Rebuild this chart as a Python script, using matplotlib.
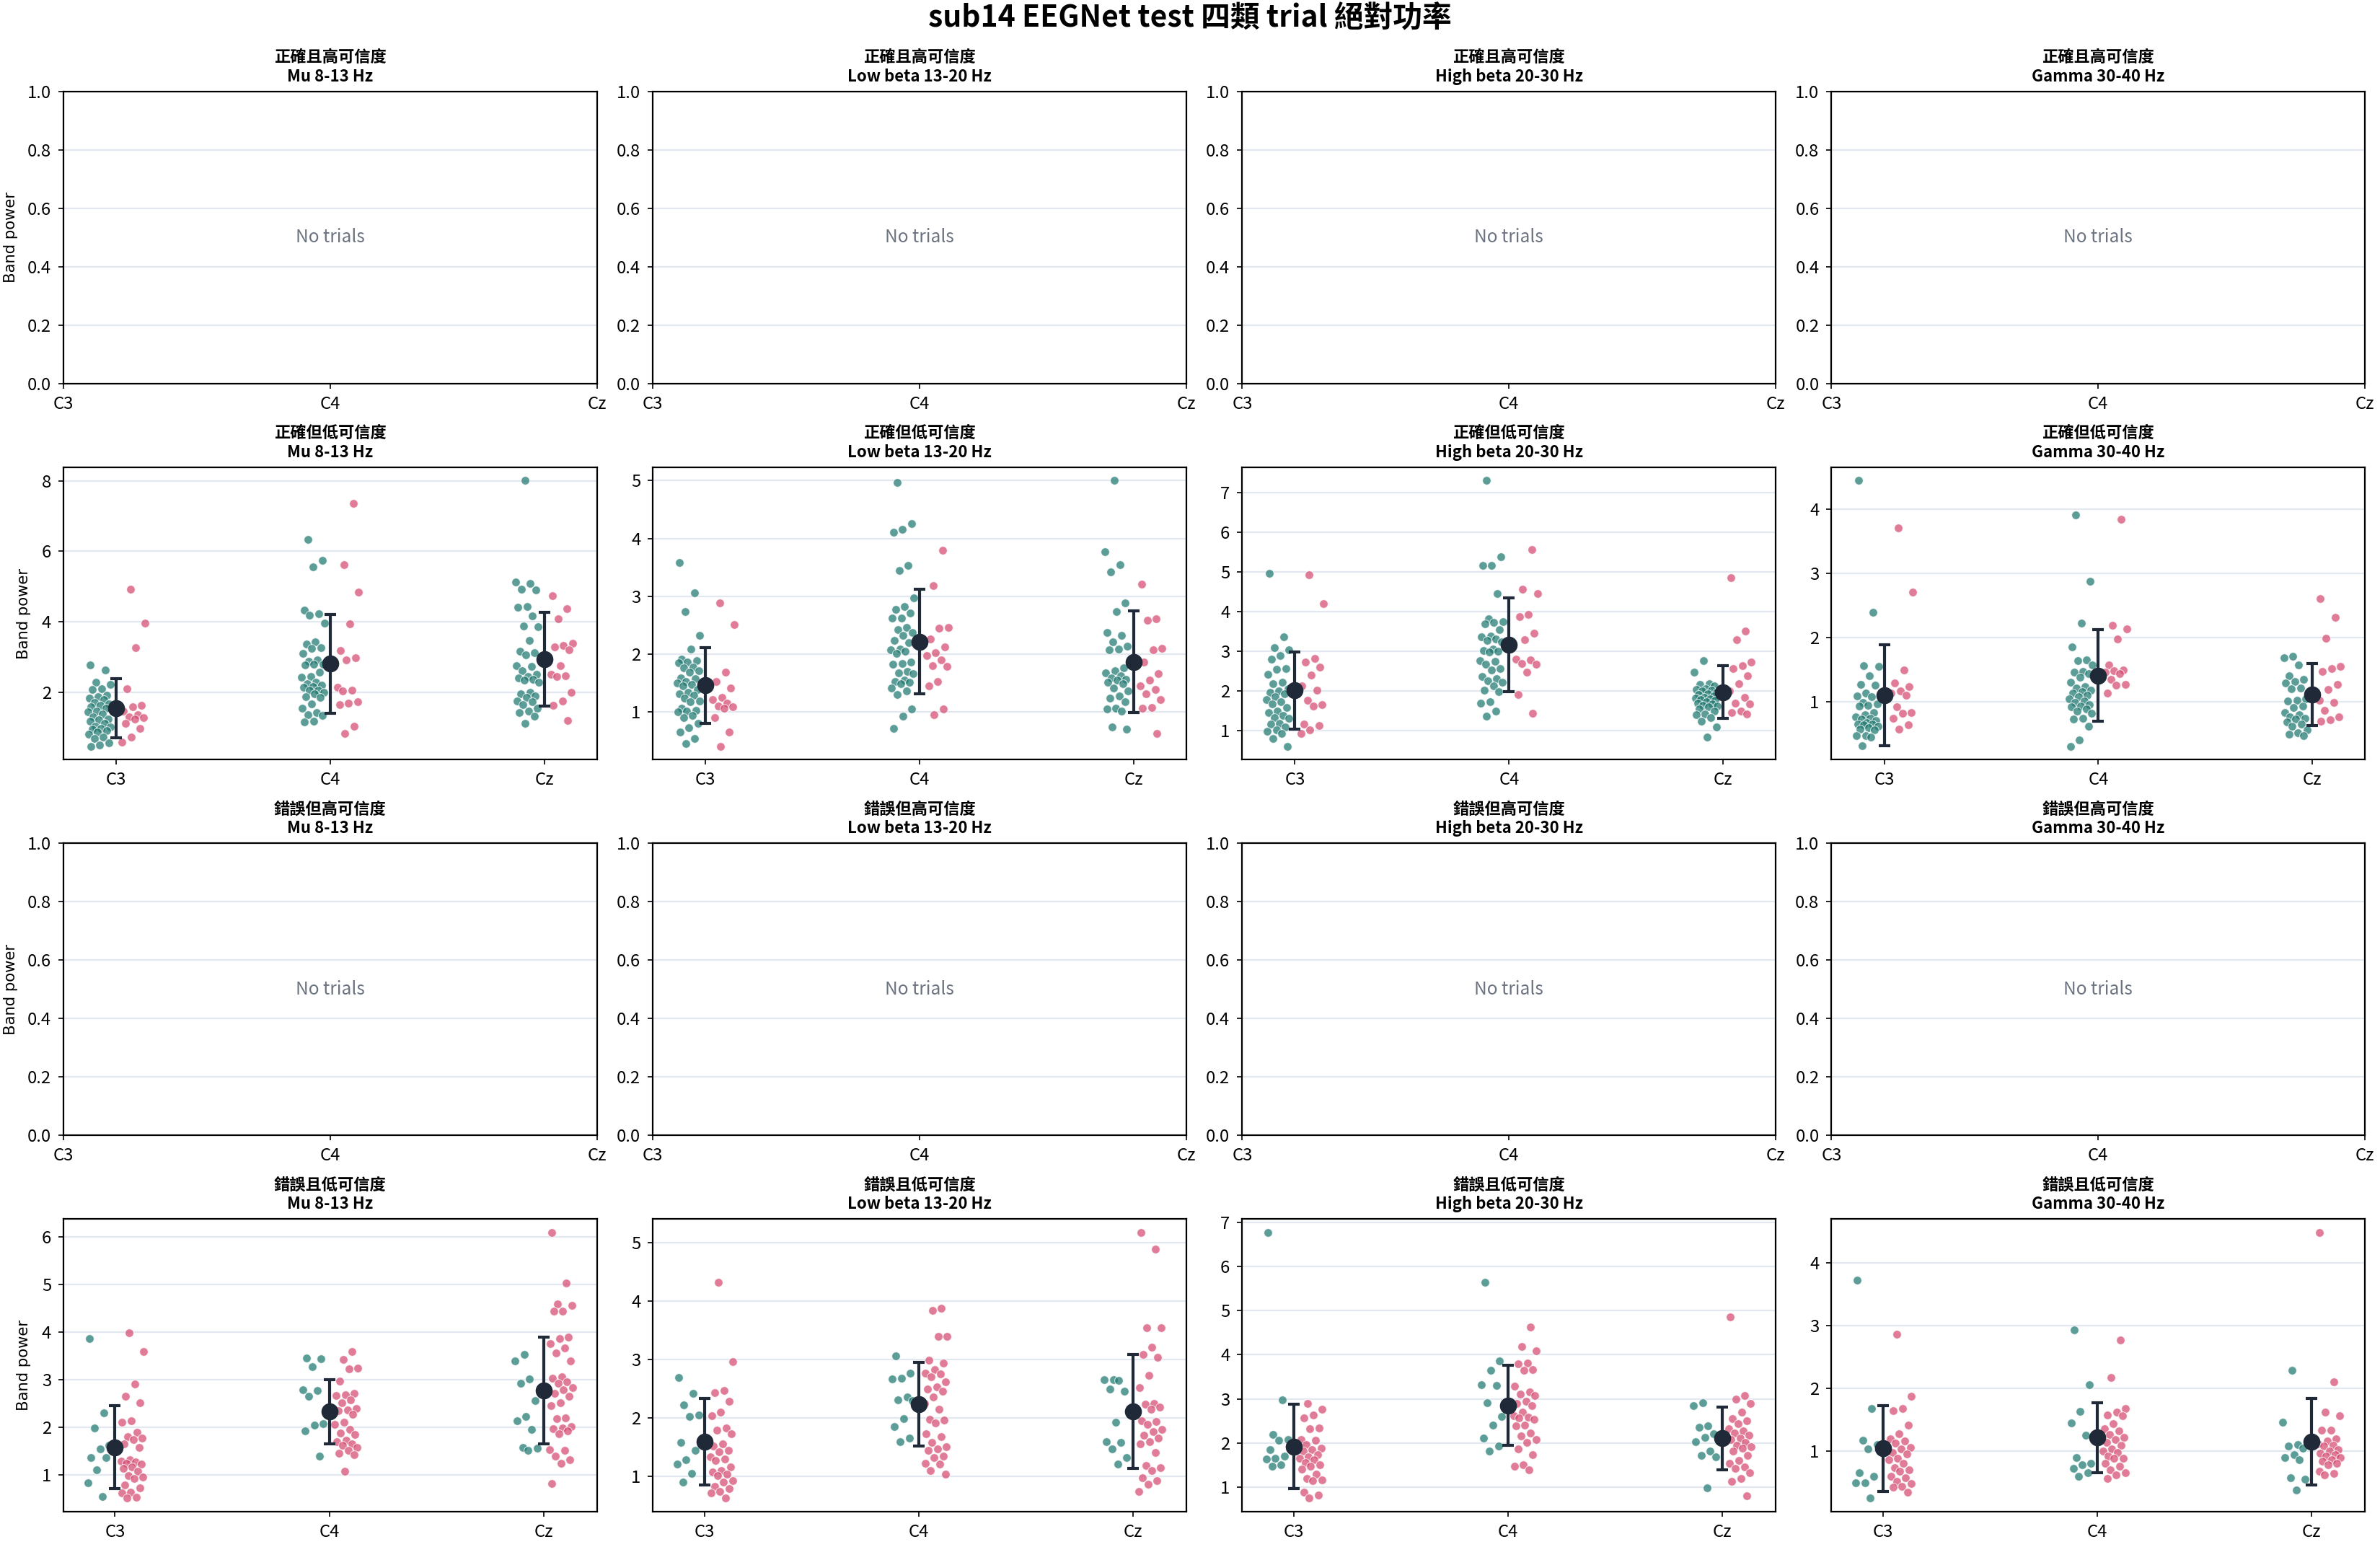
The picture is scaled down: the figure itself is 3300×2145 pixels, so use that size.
import numpy as np
import matplotlib
matplotlib.use("Agg")
import matplotlib.pyplot as plt
from matplotlib.ticker import MaxNLocator

plt.rcParams["font.family"] = ["Noto Sans CJK TC", "DejaVu Sans"]

suptitle = "sub14 EEGNet test 四類 trial 絕對功率"
categories = ["正確且高可信度", "正確但低可信度", "錯誤但高可信度", "錯誤且低可信度"]
bands = ["Mu 8-13 Hz", "Low beta 13-20 Hz", "High beta 20-30 Hz", "Gamma 30-40 Hz"]
channels = ["C3", "C4", "Cz"]

# 正確但低可信度 -- teal group / pink group, per channel [C3, C4, Cz]
cl_mu_teal = [
    [2.77, 2.63, 2.27, 2.22, 2.10, 2.08, 1.90, 1.87, 1.82, 1.78, 1.70, 1.66, 1.62, 1.58, 1.55, 1.46, 1.43, 1.38,
     1.30, 1.24, 1.21, 1.17, 1.10, 1.02, 1.00, 0.97, 0.95, 0.90, 0.87, 0.80, 0.73, 0.68, 0.56, 0.49, 0.46],
    [6.34, 5.75, 5.56, 4.33, 4.23, 4.18, 3.95, 3.43, 3.37, 3.27, 3.25, 3.09, 2.91, 2.88, 2.80, 2.78, 2.76, 2.56,
     2.45, 2.42, 2.27, 2.23, 2.20, 2.16, 2.13, 2.06, 2.05, 1.99, 1.96, 1.86, 1.84, 1.67, 1.55, 1.41, 1.36, 1.33,
     1.17, 1.16],
    [8.01, 5.13, 5.09, 4.92, 4.90, 4.42, 4.40, 4.16, 3.87, 3.86, 3.46, 3.15, 3.12, 3.05, 2.74, 2.73, 2.61, 2.50,
     2.44, 2.40, 2.37, 2.33, 2.27, 1.99, 1.96, 1.89, 1.84, 1.75, 1.72, 1.65, 1.55, 1.45, 1.41, 1.32, 1.11],
]
cl_mu_pink = [
    [4.93, 3.95, 3.26, 2.10, 1.62, 1.58, 1.45, 1.35, 1.30, 1.28, 1.24, 1.10, 0.97, 0.73, 0.57],
    [7.36, 5.61, 4.83, 3.94, 3.17, 2.97, 2.91, 2.13, 2.06, 2.03, 1.73, 1.69, 1.65, 1.02, 0.82],
    [4.74, 4.36, 4.09, 3.39, 3.32, 3.28, 3.21, 2.74, 2.50, 2.46, 2.44, 1.99, 1.74, 1.62, 1.19],
]
cl_lowbeta_teal = [
    [3.58, 3.06, 2.73, 2.33, 2.09, 1.92, 1.89, 1.87, 1.85, 1.78, 1.76, 1.72, 1.69, 1.59, 1.58, 1.53, 1.50, 1.48,
     1.45, 1.39, 1.34, 1.32, 1.29, 1.24, 1.19, 1.18, 1.07, 1.03, 1.02, 1.01, 0.94, 0.91, 0.81, 0.73, 0.66, 0.54,
     0.46],
    [4.97, 4.26, 4.16, 4.11, 3.53, 3.45, 2.97, 2.82, 2.77, 2.71, 2.63, 2.62, 2.46, 2.42, 2.38, 2.32, 2.24, 2.20,
     2.09, 2.07, 2.05, 2.01, 1.86, 1.84, 1.83, 1.70, 1.68, 1.66, 1.55, 1.53, 1.51, 1.49, 1.41, 1.36, 1.30, 1.05,
     0.93, 0.72],
    [5.00, 3.77, 3.54, 3.42, 2.89, 2.73, 2.38, 2.32, 2.21, 2.14, 2.09, 2.07, 1.76, 1.72, 1.68, 1.63, 1.59, 1.57,
     1.55, 1.51, 1.49, 1.41, 1.36, 1.28, 1.24, 1.18, 1.07, 1.05, 1.02, 0.74, 0.70],
]
cl_lowbeta_pink = [
    [2.89, 2.51, 1.69, 1.53, 1.41, 1.25, 1.22, 1.16, 1.11, 1.09, 1.07, 0.91, 0.65, 0.41],
    [3.80, 3.18, 2.46, 2.45, 2.26, 2.12, 2.03, 1.97, 1.90, 1.80, 1.79, 1.53, 1.45, 1.05, 0.96],
    [3.21, 2.61, 2.59, 2.10, 2.07, 1.87, 1.66, 1.55, 1.45, 1.39, 1.32, 1.21, 1.08, 1.07, 0.63],
]
cl_highbeta_teal = [
    [4.96, 3.35, 3.08, 3.04, 2.88, 2.79, 2.56, 2.54, 2.41, 2.21, 2.18, 2.05, 1.99, 1.96, 1.93, 1.85, 1.78, 1.72,
     1.66, 1.57, 1.48, 1.45, 1.37, 1.33, 1.30, 1.18, 1.16, 1.08, 1.01, 0.98, 0.93, 0.80, 0.60],
    [7.30, 5.38, 5.16, 5.15, 4.45, 3.81, 3.74, 3.73, 3.69, 3.54, 3.38, 3.36, 3.31, 3.27, 3.24, 3.05, 3.02, 2.99,
     2.98, 2.76, 2.74, 2.66, 2.56, 2.52, 2.35, 2.30, 2.25, 2.21, 2.13, 2.01, 1.98, 1.72, 1.69, 1.49, 1.36],
    [2.75, 2.47, 2.18, 2.15, 2.12, 2.05, 2.04, 2.01, 1.99, 1.96, 1.93, 1.90, 1.87, 1.84, 1.81, 1.80, 1.78, 1.75,
     1.72, 1.69, 1.66, 1.63, 1.62, 1.59, 1.54, 1.49, 1.42, 1.39, 1.33, 1.24, 1.08, 0.84],
]
cl_highbeta_pink = [
    [4.92, 4.19, 2.82, 2.72, 2.60, 2.40, 2.13, 2.01, 1.75, 1.65, 1.61, 1.15, 1.12, 1.02, 0.93],
    [5.56, 4.56, 4.45, 3.93, 3.87, 3.45, 3.28, 2.80, 2.78, 2.69, 2.66, 2.47, 1.90, 1.43],
    [4.85, 3.51, 3.28, 2.72, 2.63, 2.56, 2.38, 2.18, 1.99, 1.83, 1.69, 1.66, 1.48, 1.45, 1.42],
]
cl_gamma_teal = [
    [4.45, 2.40, 1.56, 1.55, 1.41, 1.27, 1.26, 1.14, 1.09, 1.08, 0.99, 0.97, 0.95, 0.94, 0.84, 0.80, 0.77, 0.75,
     0.73, 0.71, 0.68, 0.66, 0.65, 0.64, 0.62, 0.60, 0.58, 0.56, 0.48, 0.47, 0.45, 0.32],
    [3.91, 2.88, 2.23, 1.86, 1.65, 1.64, 1.58, 1.48, 1.46, 1.44, 1.39, 1.31, 1.24, 1.22, 1.18, 1.16, 1.14, 1.11,
     1.08, 1.05, 1.02, 0.99, 0.96, 0.94, 0.92, 0.89, 0.86, 0.82, 0.74, 0.73, 0.62, 0.41, 0.31],
    [1.71, 1.69, 1.58, 1.41, 1.35, 1.32, 1.29, 1.22, 1.21, 1.05, 1.03, 1.01, 0.94, 0.91, 0.84, 0.80, 0.77, 0.75,
     0.73, 0.69, 0.65, 0.62, 0.56, 0.52, 0.50, 0.47],
]
cl_gamma_pink = [
    [3.71, 2.71, 1.50, 1.29, 1.24, 1.17, 1.14, 1.10, 0.92, 0.84, 0.82, 0.74, 0.64, 0.58],
    [3.85, 2.19, 2.14, 1.98, 1.58, 1.50, 1.49, 1.46, 1.44, 1.35, 1.27, 1.26, 1.14],
    [2.61, 2.32, 1.99, 1.55, 1.52, 1.47, 1.27, 1.20, 1.03, 0.99, 0.87, 0.77, 0.72, 0.70],
]

# 錯誤且低可信度
wl_mu_teal = [
    [3.87, 2.31, 1.99, 1.62, 1.54, 1.36, 1.36, 1.11, 0.83, 0.54],
    [3.46, 3.44, 3.28, 2.79, 2.78, 2.66, 2.08, 2.04, 1.92, 1.40],
    [3.53, 3.39, 3.01, 2.93, 2.56, 2.23, 2.14, 1.95, 1.58, 1.56, 1.51],
]
wl_mu_pink = [
    [3.99, 3.60, 2.91, 2.66, 2.51, 2.13, 2.10, 1.89, 1.81, 1.77, 1.74, 1.65, 1.57, 1.32, 1.29, 1.27, 1.24, 1.22,
     1.16, 1.14, 1.07, 0.98, 0.95, 0.93, 0.79, 0.72, 0.64, 0.62, 0.53, 0.51],
    [3.60, 3.42, 3.25, 3.23, 2.97, 2.71, 2.69, 2.67, 2.57, 2.52, 2.40, 2.36, 2.35, 2.28, 2.11, 2.06, 1.95, 1.88,
     1.85, 1.72, 1.69, 1.65, 1.62, 1.58, 1.52, 1.45, 1.43, 1.07],
    [6.10, 5.03, 4.60, 4.56, 4.45, 4.44, 3.90, 3.87, 3.76, 3.67, 3.57, 3.39, 3.06, 3.03, 2.95, 2.93, 2.83, 2.79,
     2.71, 2.66, 2.51, 2.45, 2.19, 2.18, 2.01, 1.98, 1.97, 1.93, 1.87, 1.53, 1.51, 1.40, 1.32, 1.24, 0.82],
]
wl_lowbeta_teal = [
    [2.69, 2.42, 2.22, 2.05, 2.02, 1.57, 1.44, 1.28, 1.21, 1.04, 0.90],
    [3.06, 2.77, 2.68, 2.67, 2.36, 2.30, 2.29, 1.98, 1.85, 1.65, 1.59],
    [2.65, 2.65, 2.64, 2.49, 2.45, 1.92, 1.59, 1.57, 1.47, 1.32, 1.21],
]
wl_lowbeta_pink = [
    [4.32, 2.96, 2.47, 2.43, 2.28, 2.09, 2.03, 1.82, 1.79, 1.72, 1.55, 1.52, 1.44, 1.42, 1.33, 1.29, 1.27, 1.16,
     1.09, 1.07, 1.03, 1.01, 0.92, 0.90, 0.82, 0.79, 0.73, 0.71, 0.62],
    [3.88, 3.84, 3.40, 3.40, 2.99, 2.94, 2.82, 2.77, 2.75, 2.70, 2.61, 2.53, 2.49, 2.45, 2.36, 2.25, 2.15, 1.97,
     1.96, 1.91, 1.72, 1.67, 1.57, 1.50, 1.47, 1.44, 1.34, 1.32, 1.22, 1.20, 1.09, 1.03],
    [5.18, 4.89, 3.54, 3.54, 3.21, 3.09, 3.03, 2.73, 2.52, 2.25, 2.23, 2.18, 2.15, 1.95, 1.93, 1.89, 1.80, 1.76,
     1.70, 1.65, 1.59, 1.55, 1.40, 1.18, 1.14, 1.09, 0.97, 0.92, 0.86, 0.73],
]
wl_highbeta_teal = [
    [6.77, 2.97, 2.19, 2.07, 2.06, 1.85, 1.70, 1.66, 1.64, 1.51, 1.48],
    [5.64, 3.85, 3.65, 3.32, 3.30, 2.91, 2.60, 2.40, 2.11, 1.93, 1.81],
    [2.91, 2.84, 2.39, 2.36, 2.20, 2.13, 2.03, 1.81, 1.72, 1.69, 0.98],
]
wl_highbeta_pink = [
    [2.90, 2.76, 2.64, 2.56, 2.34, 2.33, 2.07, 2.06, 1.96, 1.88, 1.85, 1.82, 1.73, 1.68, 1.65, 1.62, 1.56, 1.51,
     1.48, 1.41, 1.30, 1.19, 1.16, 1.14, 0.89, 0.82, 0.75],
    [4.62, 4.18, 4.09, 3.81, 3.80, 3.66, 3.65, 3.28, 3.15, 3.10, 3.08, 2.95, 2.90, 2.84, 2.70, 2.61, 2.59, 2.56,
     2.53, 2.41, 2.39, 2.23, 2.16, 2.07, 2.02, 1.86, 1.73, 1.51, 1.48, 1.39],
    [4.85, 3.08, 3.00, 2.89, 2.70, 2.55, 2.51, 2.44, 2.33, 2.27, 2.23, 2.17, 2.11, 2.07, 2.02, 1.94, 1.92, 1.88,
     1.82, 1.72, 1.60, 1.53, 1.45, 1.42, 1.32, 1.19, 1.13, 0.80],
]
wl_gamma_teal = [
    [3.73, 1.68, 1.17, 1.10, 1.04, 0.65, 0.60, 0.50, 0.49, 0.25],
    [2.93, 2.06, 1.63, 1.45, 1.25, 0.90, 0.80, 0.78, 0.72, 0.65, 0.60],
    [2.29, 1.46, 1.10, 1.08, 1.05, 0.94, 0.90, 0.86, 0.58, 0.55, 0.38],
]
wl_gamma_pink = [
    [2.86, 1.87, 1.68, 1.64, 1.41, 1.28, 1.20, 1.16, 1.13, 1.06, 1.04, 0.98, 0.96, 0.88, 0.86, 0.81, 0.74, 0.70,
     0.68, 0.60, 0.58, 0.52, 0.48, 0.44, 0.42, 0.34],
    [2.77, 2.17, 1.68, 1.62, 1.58, 1.56, 1.44, 1.36, 1.32, 1.26, 1.22, 1.18, 1.14, 1.09, 1.04, 1.00, 0.98, 0.92,
     0.89, 0.88, 0.80, 0.76, 0.70, 0.66, 0.62, 0.56],
    [4.49, 2.11, 1.62, 1.56, 1.34, 1.33, 1.20, 1.16, 1.12, 1.09, 1.08, 1.02, 1.00, 0.97, 0.94, 0.92, 0.90, 0.86,
     0.84, 0.80, 0.78, 0.68, 0.64, 0.62],
]

# rows with trials: category index -> (teal, pink) per band
panel_data = {
    1: [(cl_mu_teal, cl_mu_pink), (cl_lowbeta_teal, cl_lowbeta_pink),
        (cl_highbeta_teal, cl_highbeta_pink), (cl_gamma_teal, cl_gamma_pink)],
    3: [(wl_mu_teal, wl_mu_pink), (wl_lowbeta_teal, wl_lowbeta_pink),
        (wl_highbeta_teal, wl_highbeta_pink), (wl_gamma_teal, wl_gamma_pink)],
}

TEAL = "#1f7870"
PINK = "#d4496f"
DARK = "#1f2937"
GRID = "#e3e8f0"


def jitter(n, center, half=0.055, phase=0.0):
    # deterministic spread (golden-ratio sequence) instead of random jitter
    k = np.arange(n)
    frac = (k * 0.6180339887 + phase) % 1.0
    return center + (frac - 0.5) * 2 * half


fig, axes = plt.subplots(4, 4, figsize=(16.5, 10.725), dpi=200)
fig.subplots_adjust(left=0.0267, right=0.9936, top=0.941, bottom=0.023, wspace=0.105, hspace=0.286)

for r, cat in enumerate(categories):
    for c, band in enumerate(bands):
        ax = axes[r, c]
        ax.set_title(f"{cat}\n{band}", fontsize=8, fontweight="bold", pad=5, linespacing=1.2)
        ax.set_axisbelow(True)
        ax.grid(axis="y", color=GRID, linewidth=0.8)
        for sp in ax.spines.values():
            sp.set_linewidth(0.8)
        ax.tick_params(labelsize=8.6, length=2.6, width=0.6)
        ax.yaxis.set_major_locator(MaxNLocator(nbins=8, steps=[1, 2, 2.5, 5, 10]))
        if c == 0:
            ax.set_ylabel("Band power", fontsize=7.6, family="DejaVu Sans")
            ax.yaxis.set_label_coords(-0.085 if r in (0, 2) else -0.061, 0.5)

        if r not in panel_data:
            ax.set_xticks(range(len(channels)))
            ax.set_xticklabels(channels)
            ax.set_ylim(0, 1)
            ax.text(0.5, 0.5, "No trials", transform=ax.transAxes, ha="center", va="center",
                    fontsize=8.8, color="#6b7280")
            continue

        teal, pink = panel_data[r][c]
        for i, ch in enumerate(channels):
            yt = np.array(teal[i])
            yp = np.array(pink[i])
            ax.scatter(jitter(len(yt), i - 0.08, phase=0.13 * (i + 1)), yt, s=18, color=TEAL, alpha=0.72,
                       edgecolors="white", linewidths=0.4, zorder=2)
            ax.scatter(jitter(len(yp), i + 0.08, phase=0.37 * (i + 1)), yp, s=18, color=PINK, alpha=0.72,
                       edgecolors="white", linewidths=0.4, zorder=2)
            allv = np.concatenate([yt, yp])
            m, sd = allv.mean(), allv.std()
            ax.errorbar(i, m, yerr=sd, fmt="o", color=DARK, markersize=7.5, capsize=3,
                        elinewidth=1.5, capthick=1.5, zorder=4)
        ax.set_xticks(range(len(channels)))
        ax.set_xticklabels(channels)

fig.suptitle(suptitle, fontsize=14.7, fontweight="bold", y=0.988, va="center")
fig.savefig("out.png", dpi=200)
